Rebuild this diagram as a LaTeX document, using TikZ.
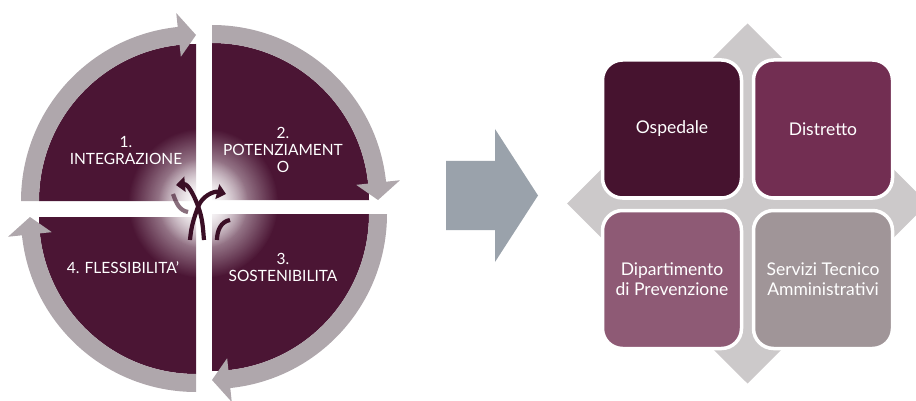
\documentclass[tikz,border=0pt]{standalone}
\usepackage{fontspec}
\setmainfont{Lato}
\usetikzlibrary{fadings,arrows.meta}
\definecolor{piecol}{HTML}{4B1534}
\definecolor{ringcol}{HTML}{AFA7AC}
\definecolor{bigarrow}{HTML}{9AA2AB}
\definecolor{diamcol}{HTML}{CCC9CA}
\definecolor{ospcol}{HTML}{46132F}
\definecolor{discol}{HTML}{722E52}
\definecolor{dipcol}{HTML}{8E5A75}
\definecolor{sercol}{HTML}{A09598}
\definecolor{iconcol}{HTML}{3A0E25}
\tikzfading[name=glowfade, inner color=transparent!0, outer color=transparent!100]
\begin{document}
\begin{tikzpicture}[x=10pt,y=10pt]
        \tikzstyle{pie}=[fill=piecol]
        \tikzstyle{ring}=[fill=ringcol]
        \tikzstyle{qtext}=[text=white, align=center, inner sep=0pt, font=\fontsize{15.5}{17}\selectfont]
        \tikzstyle{matbox}=[draw=white, line width=3.5pt, rounded corners=20pt, minimum width=139pt, minimum height=138pt, text=white, align=center, inner sep=0pt, font=\fontsize{17.5}{20}\selectfont]
        \tikzstyle{iconline}=[draw=iconcol, line width=4.2pt]
        \tikzstyle{icontip}=[-{Triangle[length=9pt,width=15pt]}]
        \useasboundingbox (0,0) rectangle (91.6,-40.1);
        % cycle of four quadrants
        \foreach \cx/\cy/\rot in {19.6/-20.1/0, 21.2/-20.0/-90, 21.2/-21.4/-180, 19.6/-21.7/-270} {
            \begin{scope}[shift={(\cx,\cy)}, rotate=\rot]
                \fill [pie] (0,0) -- (180:15.7) arc [start angle=180, end angle=90, radius=15.7] -- cycle;
                \fill [ring] (180:17.5) arc [start angle=180, end angle=96, radius=17.5] -- (96:18.9) -- (90:16.6)
                    -- (96:14.5) -- (96:15.7) arc [start angle=96, end angle=180, radius=15.7] -- cycle;
            \end{scope}
        }
        \node [qtext] (integ) at (12.6,-15.0) {1.\\INTEGRAZIONE};
        \node [qtext] (poten) at (28.3,-15.0) {2.\\POTENZIAMENT\\O};
        \node [qtext] (soste) at (28.3,-26.7) {3.\\SOSTENIBILITA};
        \node [qtext] (fless) at (12.3,-26.8) {4. FLESSIBILITA'};
        % glow and crossroad icon
        \fill [white, path fading=glowfade] (20.3,-20.3) circle (7.5);
        \fill [white, path fading=glowfade] (20.3,-20.3) circle (4.5);
        \draw [iconline, icontip] (20.4,-24.0) to[out=95,in=-70] (19.8,-20.6) to[out=110,in=5] (17.6,-18.5);
        \draw [iconline, icontip] (19.0,-24.0) to[out=85,in=-110] (19.8,-20.7) to[out=70,in=165] (22.6,-19.4);
        \draw [iconline] (21.7,-24.0) to[out=90,in=190] (23.0,-22.0);
        \draw [iconline, opacity=0.6] (17.3,-19.4) to[out=-70,in=170] (18.8,-21.2);
        % big arrow
        \fill [bigarrow] (44.6,-16.1) -- (49.5,-16.1) -- (49.5,-12.9) -- (53.8,-19.55) -- (49.5,-26.2) -- (49.5,-23.0) -- (44.6,-23.0) -- cycle;
        % matrix
        \fill [diamcol] (74.75,-2.35) -- (92.8,-20.35) -- (74.75,-38.35) -- (56.7,-20.35) -- cycle;
        \node [matbox, fill=ospcol] (osp) at (67.2,-12.9) {Ospedale};
        \node [matbox, fill=discol] (dis) at (82.3,-12.9) {Distretto};
        \node [matbox, fill=dipcol] (dip) at (67.2,-27.95) {Dipartimento\\di Prevenzione};
        \node [matbox, fill=sercol] (ser) at (82.3,-27.95) {Servizi Tecnico\\Amministrativi};
\end{tikzpicture}
\end{document}
